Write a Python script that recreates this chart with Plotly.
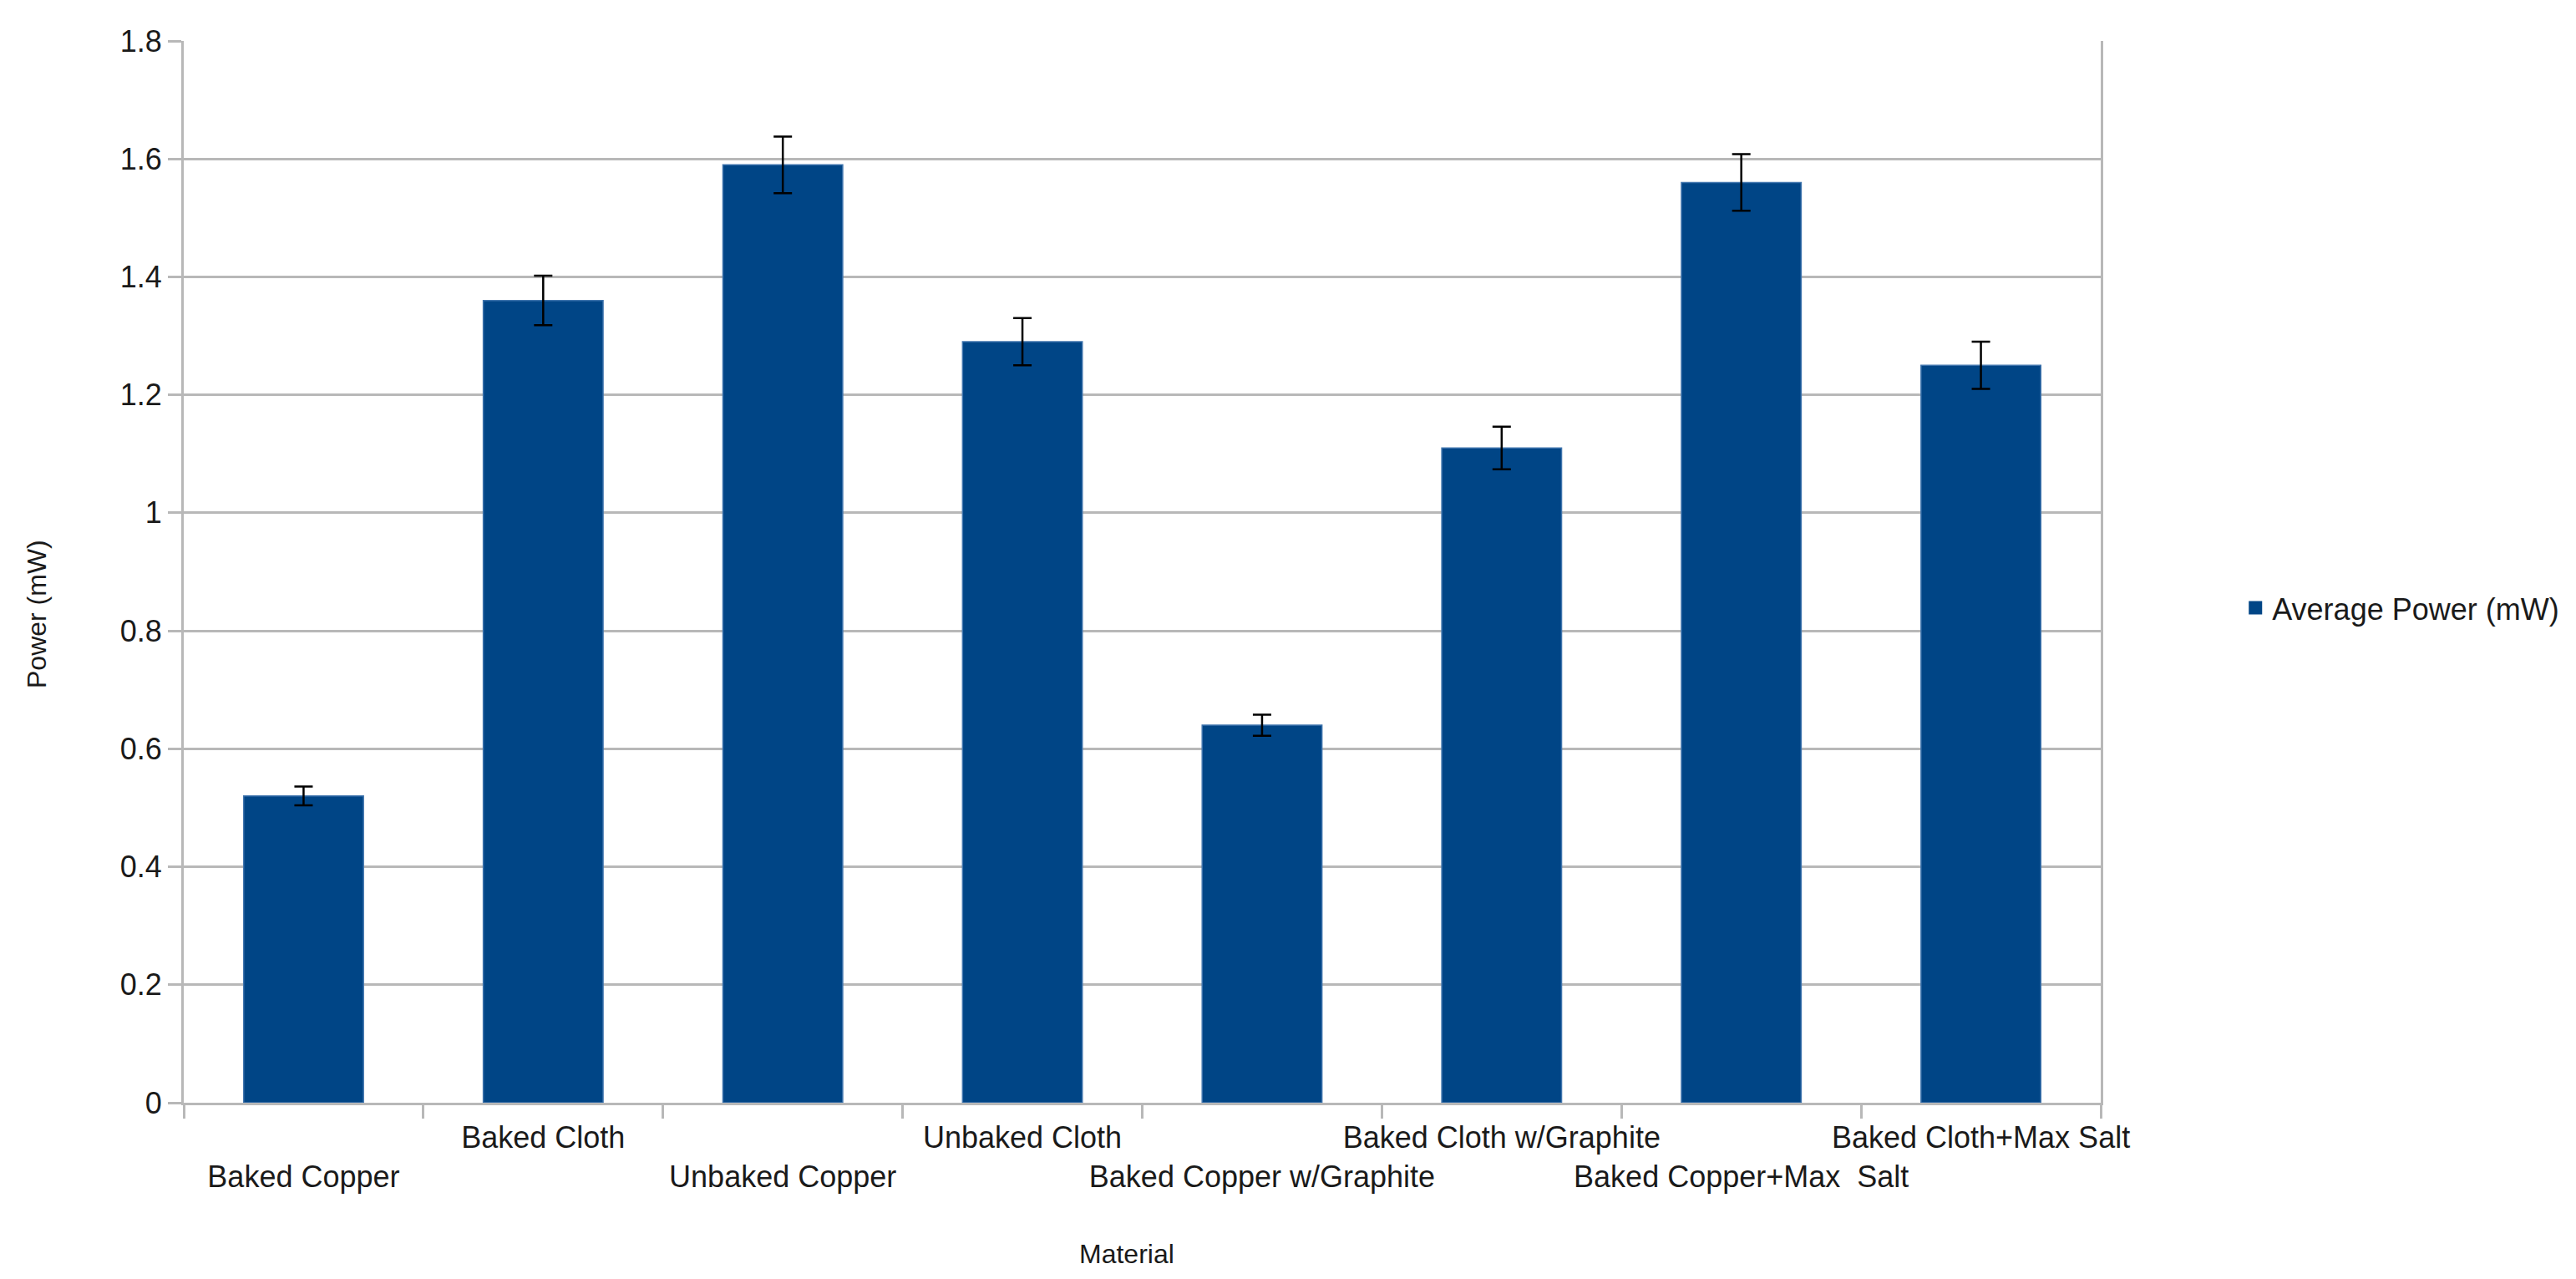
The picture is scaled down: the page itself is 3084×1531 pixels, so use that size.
import plotly.graph_objects as go

categories = ["Baked Copper", "Baked Cloth", "Unbaked Copper", "Unbaked Cloth",
              "Baked Copper w/Graphite", "Baked Cloth w/Graphite",
              "Baked Copper+Max  Salt", "Baked Cloth+Max Salt"]
avg_power = [0.52, 1.36, 1.59, 1.29, 0.64, 1.11, 1.56, 1.25]
err_power = [0.016, 0.042, 0.048, 0.040, 0.018, 0.036, 0.048, 0.040]
y_ticks = [0, 0.2, 0.4, 0.6, 0.8, 1, 1.2, 1.4, 1.6, 1.8]
series_name = "Average Power (mW)"

# staggered labels: even index on lower row, odd on upper row
tick_text = [("<br>" + c) if i % 2 == 0 else c for i, c in enumerate(categories)]

FONT = "Liberation Sans, Arial, sans-serif"
TXT = "#1a1a1a"
GRID = "#b8b8b8"
BLUE = "#004586"

fig = go.Figure()
fig.add_trace(go.Bar(
    x=categories, y=avg_power, name=series_name, showlegend=False,
    marker=dict(color=BLUE, line=dict(color="#3f74ad", width=1.5)),
    error_y=dict(type="data", array=err_power, visible=True,
                 color="#000000", thickness=2.5, width=11),
))
# legend-only entry with a larger square swatch
fig.add_trace(go.Scatter(
    x=[None], y=[None], mode="markers", name=series_name,
    marker=dict(symbol="square", size=16, color=BLUE),
))

W, H = 3084, 1531
L, R, T, B = 212, 3084 - 2507, 41, 1531 - 1312

fig.update_layout(
    width=W, height=H,
    margin=dict(l=L, r=R, t=T, b=B, autoexpand=False),
    paper_bgcolor="white", plot_bgcolor="white",
    font=dict(family=FONT, size=36, color=TXT),
    bargap=0.5,
    showlegend=True,
    legend=dict(x=1.072, y=0.466, xanchor="left", yanchor="middle",
                font=dict(size=36, color=TXT), bgcolor="rgba(0,0,0,0)"),
    xaxis=dict(
        type="category", tickson="boundaries",
        tickvals=categories, ticktext=tick_text,
        ticks="outside", ticklen=16, tickwidth=3, tickcolor=GRID,
        showline=True, linecolor=GRID, linewidth=3,
        showgrid=False, tickangle=0, ticklabelstandoff=8,
        tickfont=dict(size=36, color=TXT),
    ),
    yaxis=dict(
        range=[0, 1.8], tickvals=y_ticks,
        ticks="outside", ticklen=16, tickwidth=3, tickcolor=GRID,
        showline=True, linecolor=GRID, linewidth=3, mirror=True,
        showgrid=True, gridcolor=GRID, gridwidth=3,
        zeroline=False,
        tickfont=dict(size=36, color=TXT),
    ),
    annotations=[
        dict(text="Power (mW)", xref="paper", yref="paper",
             x=(36 - L) / (W - L - R), y=(1312 - 727) / (1312 - 41),
             xanchor="center", yanchor="middle", textangle=-90,
             showarrow=False, font=dict(size=32, color=TXT)),
        dict(text="Material", xref="paper", yref="paper",
             x=(1341 - L) / (W - L - R), y=(1312 - 1493) / (1312 - 41),
             xanchor="center", yanchor="middle",
             showarrow=False, font=dict(size=32, color=TXT)),
    ],
)

fig.write_html("out.html")
